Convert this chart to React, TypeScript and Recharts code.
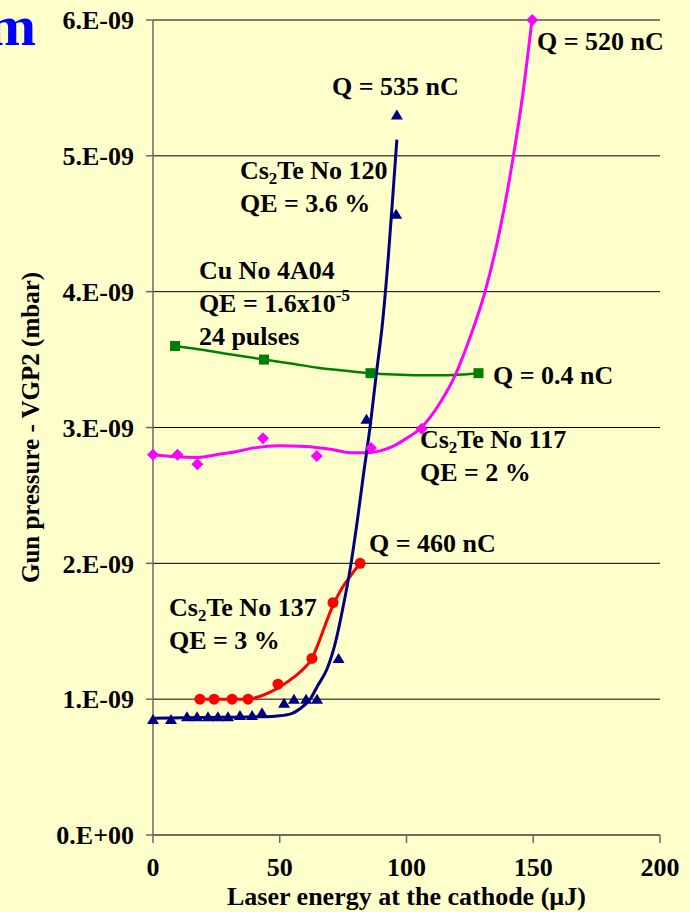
import React from 'react';
import { ComposedChart, Line, Scatter, XAxis, YAxis, CartesianGrid } from 'recharts';

const FONT = '"Liberation Serif", "Times New Roman", serif';
const BG = '#FFFFCC';

// axis ticks (pressure in units of 1e-9 mbar)
const xTicks = [0, 50, 100, 150, 200];
const yTicks = [0, 1, 2, 3, 4, 5, 6];

// Cs2Te No 120 - navy triangles
const cs120X = [0, 7.1, 13.4, 17.4, 21.7, 25.6, 29.6, 34.3, 39.1, 43.0, 51.7, 55.6, 60.4, 64.7, 73.2, 84.2, 95.9, 96.2];
const cs120Y = [0.85, 0.85, 0.87, 0.87, 0.87, 0.87, 0.87, 0.88, 0.88, 0.9, 0.97, 1.0, 1.0, 1.0, 1.3, 3.06, 4.57, 5.3];
const cs120FitX = [0, 20, 40, 48, 54, 58, 62, 65, 68.6, 72, 75, 77.7, 80.5, 83, 85.6, 88, 90.7, 92.8, 94.7, 96.2];
const cs120FitY = [0.86, 0.865, 0.87, 0.875, 0.89, 0.93, 1.0, 1.1, 1.22, 1.42, 1.68, 1.95, 2.3, 2.65, 3.0, 3.38, 3.8, 4.25, 4.73, 5.12];

// Cs2Te No 137 - red circles
const cs137X = [18.5, 24.1, 31.2, 37.5, 49.3, 62.7, 71, 81.7];
const cs137Y = [1.0, 1.0, 1.0, 1.0, 1.11, 1.3, 1.71, 2.0];
const cs137FitX = [18.5, 25, 31, 37.5, 42, 46, 50, 54, 58, 62.7, 65, 68, 71, 74, 78, 81.7];
const cs137FitY = [1.0, 1.0, 1.0, 1.0, 1.02, 1.05, 1.09, 1.14, 1.2, 1.3, 1.4, 1.55, 1.69, 1.8, 1.91, 2.0];

// Cs2Te No 117 - magenta diamonds
const cs117X = [0, 9.7, 17.5, 43.4, 64.6, 86, 106, 149.6];
const cs117Y = [2.8, 2.8, 2.73, 2.92, 2.79, 2.85, 2.99, 6.0];
const cs117FitX = [0, 9, 18, 25, 32, 40, 50, 60, 70, 78, 85, 90, 95, 100, 105.3, 113.2, 119.8, 125, 131, 137, 142, 146, 149.5];
const cs117FitY = [2.8, 2.785, 2.78, 2.8, 2.82, 2.85, 2.865, 2.86, 2.84, 2.815, 2.815, 2.83, 2.865, 2.92, 2.99, 3.18, 3.41, 3.66, 4.0, 4.47, 4.98, 5.47, 6.0];

// Cu No 4A04 - green squares
const cuX = [8.7, 43.8, 85.8, 128.4];
const cuY = [3.6, 3.5, 3.4, 3.4];
const cuFitX = [8.7, 20, 30, 43.8, 55, 65, 75, 85.8, 95, 105, 115, 122, 128.4];
const cuFitY = [3.6, 3.57, 3.54, 3.5, 3.47, 3.44, 3.42, 3.4, 3.39, 3.385, 3.385, 3.39, 3.4];

type Seg = { t: string; sub?: boolean; sup?: boolean };

// text notes, anchored at the first line's baseline start (data coords)
const notes: { x: number; y: number; lines: Seg[][] }[] = [
  { x: 70.6, y: 5.45, lines: [[{ t: 'Q = 535 nC' }]] },
  { x: 34.3, y: 4.83, lines: [[{ t: 'Cs' }, { t: '2', sub: true }, { t: 'Te No 120' }], [{ t: 'QE = 3.6 %' }]] },
  {
    x: 18.1,
    y: 4.09,
    lines: [[{ t: 'Cu No 4A04' }], [{ t: 'QE = 1.6x10' }, { t: '-5', sup: true }], [{ t: '24 pulses' }]],
  },
  { x: 151.5, y: 5.78, lines: [[{ t: 'Q = 520 nC' }]] },
  { x: 134.1, y: 3.32, lines: [[{ t: 'Q = 0.4 nC' }]] },
  { x: 105.3, y: 2.85, lines: [[{ t: 'Cs' }, { t: '2', sub: true }, { t: 'Te No 117' }], [{ t: 'QE = 2 %' }]] },
  { x: 85.2, y: 2.08, lines: [[{ t: 'Q = 460 nC' }]] },
  { x: 6.3, y: 1.61, lines: [[{ t: 'Cs' }, { t: '2', sub: true }, { t: 'Te No 137' }], [{ t: 'QE = 3 %' }]] },
];

const zip = (xs: number[], ys: number[]) => xs.map((x, i) => ({ x, y: ys[i] }));

const COLORS = {
  cs120: '#000080',
  cs137: '#FF0000',
  cs117: '#FF00FF',
  cu: '#008000',
};

const triangle = (color: string) => (p: any) => (
  <polygon points={`${p.cx},${p.cy - 5.5} ${p.cx + 6},${p.cy + 4.5} ${p.cx - 6},${p.cy + 4.5}`} fill={color} />
);
const circle = (color: string) => (p: any) => <circle cx={p.cx} cy={p.cy} r={5.5} fill={color} />;
const square = (color: string) => (p: any) => (
  <rect x={p.cx - 5} y={p.cy - 5} width={10} height={10} fill={color} />
);
const diamond = (color: string) => (p: any) => (
  <polygon points={`${p.cx},${p.cy - 6} ${p.cx + 6},${p.cy} ${p.cx},${p.cy + 6} ${p.cx - 6},${p.cy}`} fill={color} />
);

const FS = 26;
const LINE_H = 33;

const noteShape = (p: any) => {
  const { cx, cy, payload } = p;
  return (
    <text fontFamily={FONT} fontWeight="bold" fontSize={FS} fill="#000">
      {payload.lines.map((line: Seg[], li: number) => {
        let shift = 0;
        return (
          <tspan key={li} x={cx} y={cy + li * LINE_H}>
            {line.map((seg, si) => {
              const target = seg.sub ? 5 : seg.sup ? -11 : 0;
              const dy = target - shift;
              shift = target;
              return (
                <tspan key={si} dy={dy} fontSize={seg.sub || seg.sup ? 17 : FS}>
                  {seg.t}
                </tspan>
              );
            })}
          </tspan>
        );
      })}
    </text>
  );
};

const yFormat = (v: number) => (v === 0 ? '0.E+00' : `${v}.E-09`);

const tickStyle = { fontFamily: FONT, fontWeight: 'bold', fontSize: FS, fill: '#000' };
const AXIS = '#666';

export default function App() {
  return (
    <div style={{ position: 'absolute', left: 0, top: 0, width: 690, height: 912, background: BG, overflow: 'hidden' }}>
      <svg width={60} height={60} style={{ position: 'absolute', left: 0, top: 0 }}>
        <text x={36} y={45} textAnchor="end" fontFamily={FONT} fontWeight="bold" fontSize={58} fill="#0000FF">
          m
        </text>
      </svg>
      <ComposedChart width={690} height={912} margin={{ top: 20, right: 30, bottom: 0, left: 0 }}>
        <CartesianGrid vertical={false} stroke="#000" strokeWidth={1} />
        <XAxis
          type="number"
          dataKey="x"
          domain={[0, 200]}
          ticks={xTicks}
          height={77}
          tickSize={8}
          tickMargin={15}
          tick={tickStyle}
          axisLine={{ stroke: AXIS, strokeWidth: 1.5 }}
          tickLine={{ stroke: AXIS, strokeWidth: 1.5 }}
          label={{
            value: 'Laser energy at the cathode (\u00b5J)',
            position: 'insideBottom',
            offset: 7,
            style: { fontFamily: FONT, fontWeight: 'bold', fontSize: FS, fill: '#000' },
          }}
        />
        <YAxis
          type="number"
          dataKey="y"
          domain={[0, 6]}
          ticks={yTicks}
          width={153}
          tickSize={7}
          tickMargin={12}
          tick={tickStyle}
          tickFormatter={yFormat}
          axisLine={{ stroke: AXIS, strokeWidth: 1.5 }}
          tickLine={{ stroke: AXIS, strokeWidth: 1.5 }}
          label={{
            content: (props: any) => {
              const vb = props.viewBox;
              const cx = vb.x + 30;
              const cy = vb.y + vb.height / 2;
              return (
                <text
                  x={cx}
                  y={cy}
                  transform={`rotate(-90, ${cx}, ${cy})`}
                  textAnchor="middle"
                  dominantBaseline="central"
                  fontFamily={FONT}
                  fontWeight="bold"
                  fontSize={25}
                  fill="#000"
                >
                  Gun pressure - VGP2 (mbar)
                </text>
              );
            },
          }}
        />

        <Line data={zip(cuFitX, cuFitY)} dataKey="y" type="monotone" stroke={COLORS.cu} strokeWidth={2.5} dot={false} isAnimationActive={false} />
        <Scatter data={zip(cuX, cuY)} dataKey="y" shape={square(COLORS.cu)} isAnimationActive={false} />

        <Line data={zip(cs117FitX, cs117FitY)} dataKey="y" type="monotone" stroke={COLORS.cs117} strokeWidth={3} dot={false} isAnimationActive={false} />
        <Scatter data={zip(cs117X, cs117Y)} dataKey="y" shape={diamond(COLORS.cs117)} isAnimationActive={false} />

        <Line data={zip(cs137FitX, cs137FitY)} dataKey="y" type="monotone" stroke={COLORS.cs137} strokeWidth={3} dot={false} isAnimationActive={false} />
        <Scatter data={zip(cs137X, cs137Y)} dataKey="y" shape={circle(COLORS.cs137)} isAnimationActive={false} />

        <Line data={zip(cs120FitX, cs120FitY)} dataKey="y" type="monotone" stroke={COLORS.cs120} strokeWidth={3} dot={false} isAnimationActive={false} />
        <Scatter data={zip(cs120X, cs120Y)} dataKey="y" shape={triangle(COLORS.cs120)} isAnimationActive={false} />

        <Scatter data={notes} dataKey="y" shape={noteShape} isAnimationActive={false} />
      </ComposedChart>
    </div>
  );
}
